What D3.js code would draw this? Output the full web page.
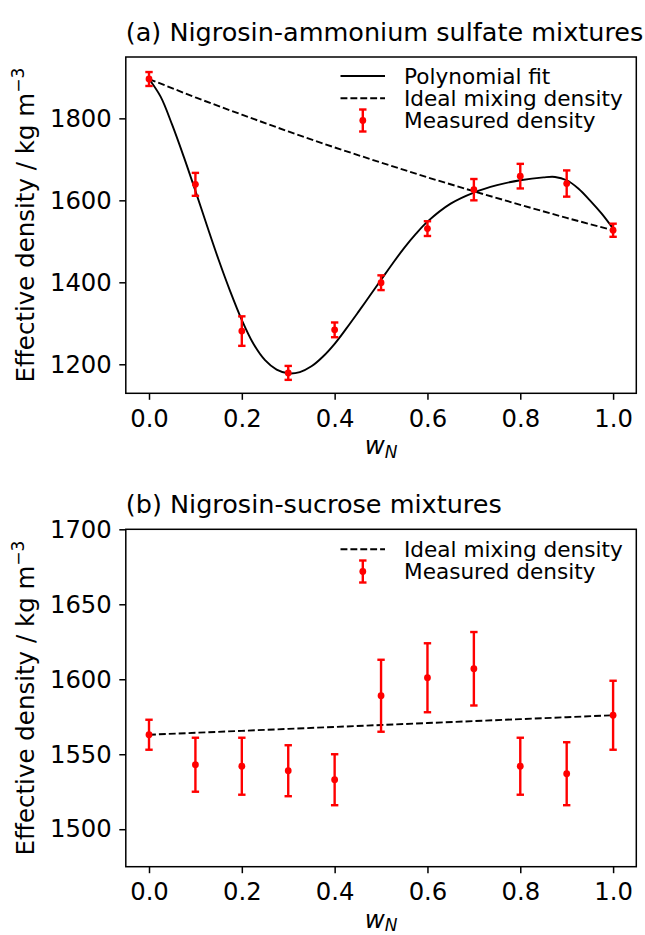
<!DOCTYPE html>
<html>
<head>
<meta charset="utf-8">
<script src="https://cdn.jsdelivr.net/npm/d3@7"></script>
<style>
  body { margin: 0; background: #fff; }
  text { font-family: "DejaVu Sans", sans-serif; fill: #000; }
</style>
</head>
<body>
<svg id="fig" width="645" height="935"></svg>
<script>
// Nigrosin mass fraction of each mixture
const wN = [0, 0.1, 0.2, 0.3, 0.4, 0.5, 0.6, 0.7, 0.8, 0.9, 1.0];

// (a) nigrosin + ammonium sulfate
const sulfateDensity = [1896, 1639, 1281, 1179, 1284, 1399, 1531, 1626, 1659, 1641, 1527];
const sulfateError   = [17, 28, 36, 17, 18, 18, 18, 26, 30, 32, 16];
const sulfateIdeal   = [1896, 1851, 1809, 1768, 1729, 1692, 1656, 1622, 1589, 1557, 1527];

// polynomial fit through the sulfate measurements
const fitW       = [0, 0.025, 0.05, 0.075, 0.1, 0.125, 0.15, 0.175, 0.2, 0.225, 0.25, 0.275, 0.3, 0.325, 0.35, 0.375, 0.4, 0.425, 0.45, 0.475, 0.5, 0.525, 0.55, 0.575, 0.6, 0.65, 0.7, 0.75, 0.8, 0.85, 0.875, 0.9, 0.925, 0.95, 0.975, 1.0];
const fitDensity = [1896, 1853, 1784, 1706, 1623, 1538, 1455, 1378, 1308, 1250, 1210, 1187, 1178, 1181, 1195, 1219, 1250, 1287, 1326, 1366, 1406, 1446, 1484, 1518, 1548, 1592, 1619, 1637, 1649, 1656, 1657, 1649, 1629, 1600, 1568, 1531];

// (b) nigrosin + sucrose
const sucroseDensity = [1563, 1543, 1542, 1539, 1533, 1589, 1601, 1607, 1542, 1537, 1576];
const sucroseError   = [10, 18, 19, 17, 17, 24, 23, 24.5, 19, 21, 23];
const sucroseIdeal   = [1563, 1564.3, 1565.6, 1566.9, 1568.2, 1569.5, 1570.8, 1572.1, 1573.4, 1574.7, 1576];

const xTicks  = [0, 0.2, 0.4, 0.6, 0.8, 1.0];
const yTicksA = [1200, 1400, 1600, 1800];
const yTicksB = [1500, 1550, 1600, 1650, 1700];

const RED = "#ff0000";
const svg = d3.select("#fig");

const x = d3.scaleLinear().domain([-0.05, 1.05]).range([125.8, 636.3]);

function panel(opts) {
  const { y, top, bottom, title, titleY, yTicks, fmt, density, error, ideal, fit, legendRows } = opts;
  const g = svg.append("g");

  // ideal mixing line
  g.append("path")
    .datum(wN.map((w, i) => [w, ideal[i]]))
    .attr("fill", "none").attr("stroke", "#000")
    .attr("stroke-width", 1.9).attr("stroke-dasharray", "6.9,3")
    .attr("d", d3.line().x(d => x(d[0])).y(d => y(d[1])));

  // fitted curve
  if (fit) {
    g.append("path")
      .datum(fit)
      .attr("fill", "none").attr("stroke", "#000").attr("stroke-width", 1.9)
      .attr("d", d3.line().x(d => x(d[0])).y(d => y(d[1])).curve(d3.curveCatmullRom.alpha(0.5)));
  }

  // measured densities with error bars
  const pts = g.append("g").selectAll("g").data(wN.map((w, i) => ({ w, v: density[i], e: error[i] })))
    .join("g").attr("stroke", RED).attr("stroke-width", 2.4);
  pts.append("line")
    .attr("x1", d => x(d.w)).attr("x2", d => x(d.w))
    .attr("y1", d => y(d.v - d.e)).attr("y2", d => y(d.v + d.e));
  pts.append("line")
    .attr("x1", d => x(d.w) - 3.7).attr("x2", d => x(d.w) + 3.7)
    .attr("y1", d => y(d.v + d.e)).attr("y2", d => y(d.v + d.e));
  pts.append("line")
    .attr("x1", d => x(d.w) - 3.7).attr("x2", d => x(d.w) + 3.7)
    .attr("y1", d => y(d.v - d.e)).attr("y2", d => y(d.v - d.e));
  pts.append("circle")
    .attr("cx", d => x(d.w)).attr("cy", d => y(d.v)).attr("r", 3.4)
    .attr("fill", RED).attr("stroke", "none");

  // frame
  g.append("rect")
    .attr("x", x.range()[0]).attr("y", top)
    .attr("width", x.range()[1] - x.range()[0]).attr("height", bottom - top)
    .attr("fill", "none").attr("stroke", "#000").attr("stroke-width", 1.5);

  // axes
  const ax = g.append("g").attr("transform", `translate(0,${bottom})`)
    .call(d3.axisBottom(x).tickValues(xTicks).tickFormat(d3.format(".1f")).tickSize(6.5).tickPadding(9.5));
  const ay = g.append("g").attr("transform", `translate(${x.range()[0]},0)`)
    .call(d3.axisLeft(y).tickValues(yTicks).tickFormat(fmt).tickSize(6.5).tickPadding(7.5));
  [ax, ay].forEach(a => {
    a.select(".domain").remove();
    a.selectAll(".tick line").attr("stroke", "#000").attr("stroke-width", 1.5);
    a.selectAll(".tick text").style("font-family", "DejaVu Sans").style("font-size", "24.3px").attr("fill", "#000");
  });

  // axis titles
  const xl = g.append("text")
    .attr("x", (x(0) + x(1)) / 2).attr("y", bottom + 61)
    .attr("text-anchor", "middle").style("font-size", "24.5px").style("font-style", "italic");
  xl.append("tspan").text("w");
  xl.append("tspan").attr("dy", 3.5).style("font-size", "17px").text("N");

  const yl = g.append("text")
    .attr("transform", `translate(33.5,${(top + bottom) / 2}) rotate(-90)`)
    .attr("text-anchor", "middle").style("font-size", "24.5px");
  yl.append("tspan").text("Effective density / kg m");
  yl.append("tspan").attr("dy", -10).style("font-size", "17px").text("\u22123");

  // panel title, left-aligned with the frame
  g.append("text")
    .attr("x", x.range()[0]).attr("y", titleY)
    .attr("text-anchor", "start").style("font-size", "25.5px").text(title);

  // legend
  const lg = g.append("g");
  legendRows.forEach(r => {
    if (r.kind === "solid" || r.kind === "dashed") {
      lg.append("line").attr("x1", 340.5).attr("x2", 385).attr("y1", r.y).attr("y2", r.y)
        .attr("stroke", "#000").attr("stroke-width", 1.9)
        .attr("stroke-dasharray", r.kind === "dashed" ? "6.9,3" : null);
    } else {
      const cx = 362.8;
      lg.append("line").attr("x1", cx).attr("x2", cx).attr("y1", r.y - 11).attr("y2", r.y + 11)
        .attr("stroke", RED).attr("stroke-width", 2.4);
      [-11, 11].forEach(o => lg.append("line").attr("x1", cx - 3.7).attr("x2", cx + 3.7)
        .attr("y1", r.y + o).attr("y2", r.y + o).attr("stroke", RED).attr("stroke-width", 2.4));
      lg.append("circle").attr("cx", cx).attr("cy", r.y).attr("r", 3.4).attr("fill", RED);
    }
    lg.append("text").attr("x", 404).attr("y", r.y + 7.8)
      .style("font-size", "21.6px").text(r.label);
  });
}

panel({
  y: d3.scaleLinear().domain([1129.2, 1949.7]).range([393.3, 57]),
  top: 57, bottom: 393.3,
  title: "(a) Nigrosin-ammonium sulfate mixtures", titleY: 41,
  yTicks: yTicksA, fmt: d3.format("d"),
  density: sulfateDensity, error: sulfateError, ideal: sulfateIdeal,
  fit: fitW.map((w, i) => [w, fitDensity[i]]),
  legendRows: [
    { kind: "solid", label: "Polynomial fit", y: 76 },
    { kind: "dashed", label: "Ideal mixing density", y: 98.3 },
    { kind: "err", label: "Measured density", y: 120.5 }
  ]
});

panel({
  y: d3.scaleLinear().domain([1475, 1700]).range([866.7, 529.3]),
  top: 529.3, bottom: 866.7,
  title: "(b) Nigrosin-sucrose mixtures", titleY: 513.3,
  yTicks: yTicksB, fmt: d3.format("d"),
  density: sucroseDensity, error: sucroseError, ideal: sucroseIdeal,
  fit: null,
  legendRows: [
    { kind: "dashed", label: "Ideal mixing density", y: 549.3 },
    { kind: "err", label: "Measured density", y: 571.5 }
  ]
});
</script>
</body>
</html>
